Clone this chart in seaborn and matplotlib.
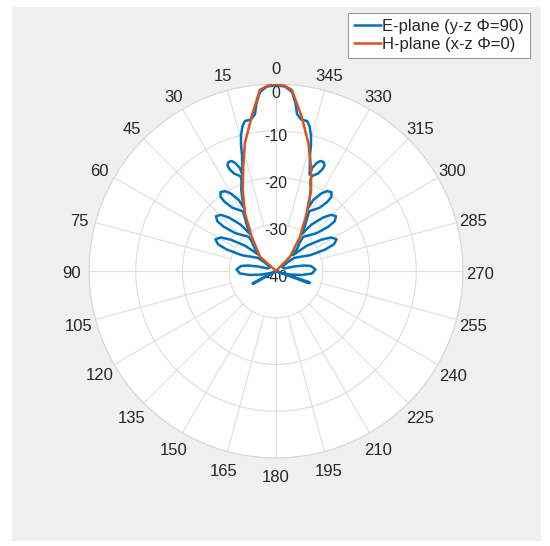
import numpy as np
import matplotlib
matplotlib.use('Agg')
import matplotlib.pyplot as plt
from matplotlib.patches import Rectangle
from matplotlib.transforms import ScaledTranslation
import seaborn as sns

# Datos (angulo en grados, ganancia en dB)
h_theta = [-58, -44.4, -35.0, -28.0, -23.4, -18.6, -14.2, -9.5, -5.0, -2.5, 0,
           2.5, 5.1, 9.0, 13.7, 17.4, 22.4, 28.3, 35.3, 48.2, 60]
h_db = [-40, -35.7, -31.0, -26.0, -21.1, -16.5, -11.8, -6.6, -1.1, -0.3, 0,
        -0.3, -1.1, -6.6, -11.9, -16.6, -21.3, -26.0, -31.0, -35.4, -40]

# plano E: recorrido del trazo azul (lado derecho de abajo hacia arriba,
# luego lado izquierdo de arriba hacia abajo)
e_theta = [-104, -108.5, -109.4, -110.5, -115,
           -116.57, -104.04, -98.75, -93.97, -87.83, -81.87, -78.89, -75.96, -72.65,
           -56.31, -53.13,
           -54.03, -65.21, -66.42, -65.27, -62.35, -58.71, -55.33, -50.57, -46.83,
           -43.67, -39.61,
           -38.55, -47.01, -49.76, -49.71, -47.60, -44.39, -41.33, -37.41, -34.98,
           -32.12, -29.74,
           -29.19, -34.51, -36.64, -36.73, -35.12, -32.53, -30.22, -27.70, -26.92,
           -25.26, -23.19, -20.77,
           -20.49, -23.28, -24.56, -24.67, -23.55, -21.93, -20.62, -19.35, -19.25,
           -17.69,
           -16.34, -15.52, -14.43, -13.0, -11.68, -9.37, -7.62, -6.62, -5.1, -2.79,
           0,
           2.79, 5.1, 6.62, 7.62, 9.37, 11.68, 13.0, 14.43, 15.52, 16.34,
           17.69,
           19.25, 19.35, 20.62, 21.93, 23.55, 24.67, 24.56, 23.28, 20.49,
           20.77, 23.19, 25.26,
           26.92, 27.70, 30.22, 32.53, 35.12, 36.73, 36.64, 34.51, 29.19,
           29.74, 32.12,
           34.98, 37.41, 41.33, 44.39, 47.60, 49.71, 49.76, 47.01, 38.55,
           39.61, 43.67,
           46.83, 50.57, 55.33, 58.71, 62.35, 65.27, 66.42, 65.21, 54.03,
           53.13, 56.31,
           72.65, 75.96, 78.89, 81.87, 87.83, 93.97, 98.75, 104.04, 116.57,
           114, 117.5, 118.5, 119.5, 123]
e_db = [-40, -32.6, -32.3, -32.6, -40,
        -39.28, -36.91, -34.37, -32.28, -31.54, -32.44, -33.90, -36.03, -38.21,
        -38.46, -36.79,
        -35.23, -31.93, -28.51, -26.35, -25.39, -26.18, -28.22, -31.55, -35.03,
        -33.49, -31.95,
        -30.65, -28.14, -25.36, -23.54, -22.62, -23.18, -24.79, -27.48, -30.39,
        -28.13, -26.20,
        -25.34, -23.60, -21.57, -20.18, -19.37, -19.72, -20.85, -22.83, -25.08,
        -23.21, -21.15, -19.18,
        -18.38, -17.31, -16.0, -15.09, -14.57, -14.63, -15.35, -16.65, -18.17,
        -16.20,
        -14.14, -12.02, -9.97, -8.17, -7.23, -7.16, -6.12, -3.83, -1.56, -0.49,
        -0.3,
        -0.49, -1.56, -3.83, -6.12, -7.16, -7.23, -8.17, -9.97, -12.02, -14.14,
        -16.20,
        -18.17, -16.65, -15.35, -14.63, -14.57, -15.09, -16.0, -17.31, -18.38,
        -19.18, -21.15, -23.21,
        -25.08, -22.83, -20.85, -19.72, -19.37, -20.18, -21.57, -23.60, -25.34,
        -26.20, -28.13,
        -30.39, -27.48, -24.79, -23.18, -22.62, -23.54, -25.36, -28.14, -30.65,
        -31.95, -33.49,
        -35.03, -31.55, -28.22, -26.18, -25.39, -26.35, -28.51, -31.93, -35.23,
        -36.79, -38.46,
        -38.21, -36.03, -33.90, -32.44, -31.54, -32.28, -34.37, -36.91, -39.28,
        -40, -34.6, -34.3, -34.6, -40]

r_ticks = [-40, -30, -20, -10, 0]
theta_ticks = list(range(0, 360, 15))
labels = ['E-plane (y-z \u03a6=90)', 'H-plane (x-z \u03a6=0)']

sns.set_theme(style='white')
plt.rcParams['font.family'] = ['Liberation Sans', 'DejaVu Sans']

W, H = 550, 546
fig = plt.figure(figsize=(W / 100, H / 100), dpi=100)
fig.patch.set_facecolor('white')
fondo = Rectangle((12 / W, 1 - 541 / H), 529 / W, 534 / H,
                  transform=fig.transFigure, facecolor='#f0f0f0',
                  edgecolor='none', zorder=-10)
fig.patches.append(fondo)

# centro del polar en pixeles (276, 271), radio 187
ax = fig.add_axes([89 / W, 88 / H, 374 / W, 374 / H], projection='polar')
ax.set_zorder(1)
ax.set_facecolor('white')
ax.set_theta_zero_location('N')
ax.set_theta_direction(1)

azul = '#0072BD'
naranja = '#D95319'
sns.lineplot(x=np.deg2rad(e_theta), y=e_db, ax=ax, sort=False, estimator=None,
             color=azul, linewidth=1.8, zorder=4)
sns.lineplot(x=np.deg2rad(h_theta), y=h_db, ax=ax, sort=False, estimator=None,
             color=naranja, linewidth=1.8, zorder=5)

ax.set_rlim(-40, 0)
ax.set_rticks(r_ticks)
ax.set_yticklabels([])
ax.yaxis.grid(True, color='#dedede', linewidth=0.8)
ax.xaxis.grid(False)
ax.set_xticks(np.deg2rad(theta_ticks))
ax.set_xticklabels([])
ax.spines['polar'].set_color('#d8d8d8')
ax.spines['polar'].set_linewidth(0.8)
ax.set_xlabel('')
ax.set_ylabel('')

# lineas radiales (empiezan en el anillo de -30)
for t in theta_ticks:
    ax.plot([np.deg2rad(t)] * 2, [-30, 0], color='#dedede', linewidth=0.8, zorder=1)

# etiquetas angulares alrededor del circulo
for t in theta_ticks:
    a = np.deg2rad(t)
    px = 276 - 204 * np.sin(a)
    py = 274 - 204 * np.cos(a)
    fig.text(px / W, 1 - py / H, str(t), ha='center', va='center',
             fontsize=12, color='#262626')

# etiquetas radiales
for r in r_ticks:
    dy = -9 if r == 0 else -6
    desplaz = ax.transData + ScaledTranslation(0, dy / 100, fig.dpi_scale_trans)
    ax.text(0, r, str(r), transform=desplaz, ha='center', va='center',
            fontsize=11.5, color='#262626', zorder=2)

if ax.get_legend() is not None:
    ax.get_legend().remove()
lineas = ax.get_lines()[:2]
leg = fig.legend(lineas, labels, loc='upper right',
                 bbox_to_anchor=(530 / W, 1 - 13 / H),
                 bbox_transform=fig.transFigure, fontsize=12, frameon=True,
                 fancybox=False, edgecolor='#9a9a9a', framealpha=1,
                 labelspacing=0.2, handlelength=1.6, handletextpad=0.1,
                 borderpad=0.35, borderaxespad=0)
leg.get_frame().set_linewidth(0.8)
leg.set_zorder(5)

fig.savefig('out.png', dpi=100)
